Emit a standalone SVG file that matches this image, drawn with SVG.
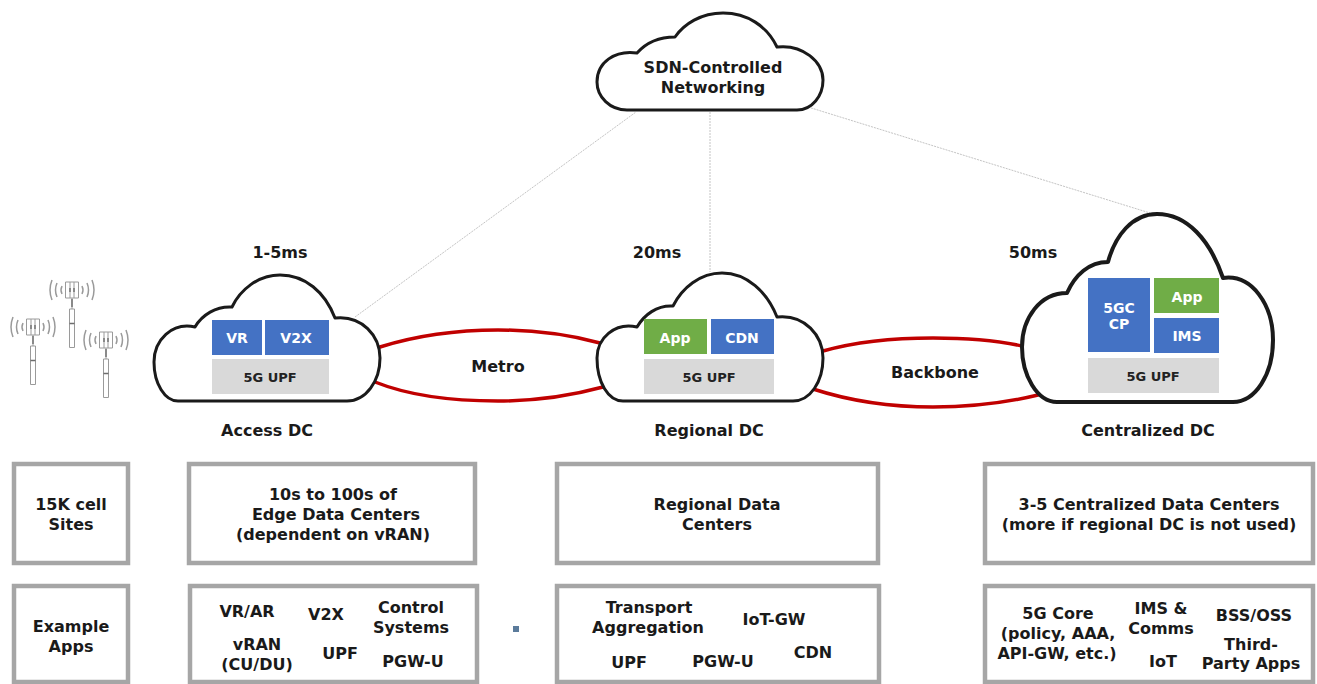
<svg xmlns="http://www.w3.org/2000/svg" width="1317" height="684" viewBox="0 0 1317 684">
<style>
text{font-family:"DejaVu Sans","Verdana",sans-serif;font-weight:700;font-size:16px;fill:#1a1a1a;text-anchor:middle}
text.w{fill:#fff;font-size:14px}
text.d{font-size:13px;fill:#222}
.cloud{fill:#fff;stroke:#1a1a1a;stroke-width:3;stroke-linejoin:round}
.thick{stroke-width:4}
.box{fill:#fff;stroke:#a6a6a6;stroke-width:4.5}
.blue{fill:#4472c4}.green{fill:#70ad47}.grey{fill:#d9d9d9}
.red{fill:none;stroke:#c00000;stroke-width:3.5;stroke-linecap:round}
.ctrl{fill:none;stroke:#c4c4c4;stroke-width:1;stroke-dasharray:2 1}
.tw{fill:#fff;stroke:#9a9a9a;stroke-width:1}
.wv{fill:none;stroke:#9a9a9a;stroke-width:1.5}
.mk{fill:none;stroke:#6e6e6e;stroke-width:1.4}
</style>
<defs>
<g id="tower">
<path class="tw" d="M0 8V19"/>
<path class="tw" d="M-2.5 19H2.5V57.5H-2.5Z"/>
<path class="mk" d="M-2.5 33.5H2.5M0 9V17"/>
<path class="tw" d="M-6.5-8H6.5V8H-6.5Z M-2-8V8 M2-8V8"/>
<path class="mk" d="M-2-2V2M2-2V2"/>
<path class="wv" d="M-10-4Q-12 0-10 4M-15-7Q-18 0-15 7M-20-10Q-24 0-20 10M10-4Q12 0 10 4M15-7Q18 0 15 7M20-10Q24 0 20 10"/>
</g>
</defs>
<g id="connectors">
<path class="ctrl" d="M355 317L636 112"/>
<path class="ctrl" d="M710 112V272"/>
<path class="ctrl" d="M808 107L1150 213"/>
<path class="red" d="M380 347C415 336 455 330 498 330C535 330 570 335 600 343"/>
<path class="red" d="M375 382C410 396 450 401 498 401C535 401 570 396 603 387"/>
<path class="red" d="M823 351C855 342 890 338 933 338C965 338 995 340 1022 346"/>
<path class="red" d="M813 389C850 401 890 407 933 407C970 407 1005 403 1038 395"/>
</g>
<g id="sdn">
<path class="cloud" d="M627 110H797C812 110 823 96 823 80C823 62 803 44 777 47C767 26 747 13 723 13C701 13 684 24 675 37C658 37 645 44 637 53C615 50 597 62 597 82C597 97 610 110 627 110Z"/>
<text x="713" y="73">SDN-Controlled</text>
<text x="713" y="93">Networking</text>
</g>
<g id="towers">
<use href="#tower" x="72" y="290"/>
<use href="#tower" x="33" y="327"/>
<use href="#tower" x="106" y="340"/>
</g>
<g id="access-dc">
<path class="cloud" d="M178 401H347C366 401 380 381 380 358C380 336 362 315 335 318C325 292 305 275 280 275C258 275 240 290 232 307C216 306 202 315 195 327C172 322 154 340 154 362C154 384 165 401 178 401Z"/>
<rect class="blue" x="212" y="320" width="50" height="35"/>
<rect class="blue" x="265" y="320" width="64" height="35"/>
<rect class="grey" x="212" y="359" width="117" height="35"/>
<text class="w" x="237" y="343">VR</text>
<text class="w" x="296" y="343">V2X</text>
<text class="d" x="270" y="382">5G UPF</text>
<text x="280" y="258">1-5ms</text>
<text x="267" y="436">Access DC</text>
</g>
<g id="regional-dc">
<path class="cloud" d="M623 401H793C810 401 823 382 823 358C823 336 805 314 777 317C767 292 747 273 722 273C700 273 682 288 673 306C657 305 644 315 637 327C615 322 597 338 597 358C597 382 608 401 623 401Z"/>
<rect class="green" x="644" y="319" width="63" height="35"/>
<rect class="blue" x="711" y="319" width="63" height="35"/>
<rect class="grey" x="644" y="359" width="130" height="35"/>
<text class="w" x="675" y="343">App</text>
<text class="w" x="742" y="343">CDN</text>
<text class="d" x="709" y="382">5G UPF</text>
<text x="657" y="258">20ms</text>
<text x="709" y="436">Regional DC</text>
</g>
<g id="centralized-dc">
<path class="cloud thick" d="M1057 402H1233C1255 402 1273 375 1273 340C1273 305 1252 274 1223 278C1210 240 1187 214 1157 214C1132 214 1115 236 1108 262C1089 262 1075 275 1067 293C1040 293 1022 318 1022 347C1022 375 1037 402 1057 402Z"/>
<rect class="blue" x="1088" y="278" width="62" height="74"/>
<rect class="green" x="1154" y="278" width="65" height="35"/>
<rect class="blue" x="1154" y="318" width="65" height="35"/>
<rect class="grey" x="1088" y="358" width="131" height="35"/>
<text class="w" x="1119" y="313">5GC</text>
<text class="w" x="1119" y="329">CP</text>
<text class="w" x="1187" y="302">App</text>
<text class="w" x="1187" y="341">IMS</text>
<text class="d" x="1153" y="381">5G UPF</text>
<text x="1033" y="258">50ms</text>
<text x="1148" y="436">Centralized DC</text>
</g>
<g id="metro"><text x="498" y="372">Metro</text></g>
<g id="backbone"><text x="935" y="378">Backbone</text></g>
<g id="sites"><rect class="box" x="14" y="464" width="114" height="99"/>
<text x="71" y="510">15K cell</text><text x="71" y="530">Sites</text></g>
<g id="edge"><rect class="box" x="189" y="464" width="286" height="99"/>
<text x="333" y="500">10s to 100s of</text><text x="336" y="520">Edge Data Centers</text><text x="333" y="540">(dependent on vRAN)</text></g>
<g id="regional"><rect class="box" x="557" y="464" width="321" height="99"/>
<text x="717" y="510">Regional Data</text><text x="717" y="530">Centers</text></g>
<g id="centralized"><rect class="box" x="985" y="464" width="328" height="99"/>
<text x="1149" y="510">3-5 Centralized Data Centers</text><text x="1149" y="530">(more if regional DC is not used)</text></g>
<g id="apps-label"><rect class="box" x="14" y="586" width="114" height="96"/>
<text x="71" y="632">Example</text><text x="71" y="652">Apps</text></g>
<g id="apps-edge"><rect class="box" x="190" y="586" width="287" height="96"/>
<text x="247" y="617">VR/AR</text><text x="326" y="620">V2X</text><text x="411" y="613">Control</text><text x="411" y="633">Systems</text>
<text x="257" y="650">vRAN</text><text x="257" y="670">(CU/DU)</text><text x="340" y="659">UPF</text><text x="413" y="667">PGW-U</text></g>
<g id="dot"><rect x="513" y="626" width="6" height="6" fill="#5b7b9b"/></g>
<g id="apps-regional"><rect class="box" x="557" y="586" width="322" height="96"/>
<text x="649" y="613">Transport</text><text x="648" y="633">Aggregation</text><text x="774" y="625">IoT-GW</text>
<text x="629" y="668">UPF</text><text x="723" y="667">PGW-U</text><text x="813" y="658">CDN</text></g>
<g id="apps-centralized"><rect class="box" x="985" y="586" width="328" height="96"/>
<text x="1058" y="619">5G Core</text><text x="1058" y="639">(policy, AAA,</text><text x="1057" y="659">API-GW, etc.)</text>
<text x="1161" y="614">IMS &amp;</text><text x="1161" y="634">Comms</text><text x="1163" y="667">IoT</text>
<text x="1254" y="621">BSS/OSS</text><text x="1251" y="650">Third-</text><text x="1251" y="669">Party Apps</text></g>
</svg>
